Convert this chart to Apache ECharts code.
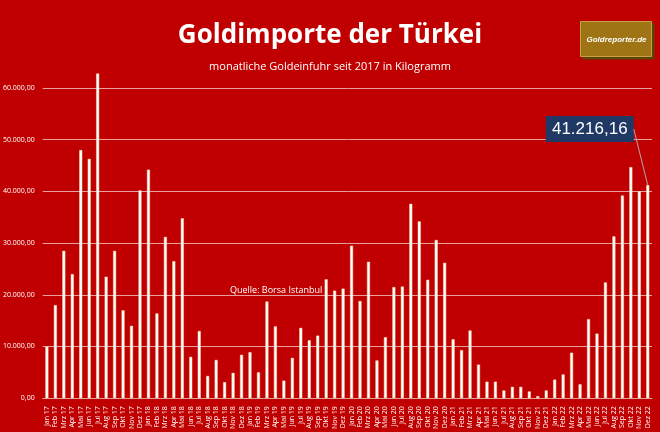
<!DOCTYPE html>
<html>
<head>
<meta charset="UTF-8">
<title>Goldimporte der Türkei</title>
<script src="https://cdn.jsdelivr.net/npm/echarts@6/dist/echarts.min.js"></script>
<style>
html, body { margin: 0; padding: 0; background: #c00000; }
#chart { width: 660px; height: 432px; }
</style>
</head>
<body>
<div id="chart"></div>
<script>
var months = ['Jan', 'Feb', 'Mrz', 'Apr', 'Mai', 'Jun', 'Jul', 'Aug', 'Sep', 'Okt', 'Nov', 'Dez'];
var years = ['17', '18', '19', '20', '21', '22'];
var categories = [];
years.forEach(function (y) {
	months.forEach(function (m) { categories.push(m + ' ' + y); });
});

// Goldeinfuhr in Kilogramm
var v2017 = [10000, 18000, 28500, 24000, 48000, 46300, 62800, 23500, 28500, 17000, 14000, 40200];
var v2018 = [44200, 16400, 31200, 26500, 34800, 8000, 13000, 4300, 7400, 3100, 4900, 8400];
var v2019 = [8900, 5000, 18700, 13900, 3400, 7800, 13600, 11200, 12100, 23000, 20800, 21200];
var v2020 = [29500, 18800, 26400, 7300, 11800, 21500, 21600, 37600, 34200, 22900, 30600, 26200];
var v2021 = [11400, 9300, 13100, 6500, 3200, 3200, 1500, 2200, 2200, 1300, 400, 1500];
var v2022 = [3600, 4600, 8800, 2700, 15300, 12500, 22400, 31300, 39200, 44700, 40000, 41216.16];
var values = [].concat(v2017, v2018, v2019, v2020, v2021, v2022);

function fmt(v) {
	var parts = v.toFixed(2).split('.');
	return parts[0].replace(/\B(?=(\d{3})+(?!\d))/g, '.') + ',' + parts[1];
}

var chart = echarts.init(document.getElementById('chart'));
chart.setOption({
	backgroundColor: '#c00000',
	animation: false,
	title: [{
		text: 'Goldimporte der Türkei',
		left: 'center', top: 18,
		textStyle: { color: '#fff', fontSize: 26, fontWeight: 'bold', fontFamily: 'Open Sans' }
	}, {
		text: 'monatliche Goldeinfuhr seit 2017 in Kilogramm',
		left: 'center', top: 56,
		textStyle: { color: '#fff', fontSize: 11, fontWeight: 'normal', fontFamily: 'Open Sans' }
	}],
	graphic: [{
		type: 'group', left: 580, top: 21,
		children: [
			{ type: 'rect', shape: { x: 2, y: 2, width: 72, height: 36 }, style: { fill: '#5a4405' } },
			{ type: 'rect', shape: { x: 0, y: 0, width: 71, height: 35 }, style: { fill: '#9e7414', stroke: '#c9a040', lineWidth: 1 } },
			{ type: 'text', style: { x: 36, y: 18, text: 'Goldreporter.de', fill: '#fff', font: 'italic bold 8px sans-serif', textAlign: 'center', textVerticalAlign: 'middle' } }
		]
	}, {
		type: 'text', left: 230, top: 286,
		style: { text: 'Quelle: Borsa Istanbul', fill: '#fff', font: '9px "Open Sans"' }
	}],
	grid: { left: 40, right: 8, top: 88, bottom: 31 },
	xAxis: {
		type: 'category',
		data: categories,
		axisTick: { show: false },
		axisLine: { lineStyle: { color: '#e6a0a0' } },
		axisLabel: { color: '#fff', rotate: 90, fontSize: 7, interval: 0, fontFamily: 'Open Sans' }
	},
	yAxis: {
		type: 'value', min: 0, max: 60000, interval: 10000,
		axisLabel: { color: '#fff', fontSize: 7, formatter: fmt, fontFamily: 'Open Sans' },
		splitLine: { lineStyle: { color: '#e6a0a0' } }
	},
	series: [{
		type: 'bar',
		data: values,
		clip: false,
		barWidth: 3,
		itemStyle: { color: '#fff', borderColor: '#f5deb3', borderWidth: 0.5 },
		markPoint: {
			symbol: 'rect', symbolSize: [88, 26],
			symbolOffset: [-58, -56],
			itemStyle: { color: '#1f3864' },
			label: { color: '#fff', fontSize: 17, formatter: function () { return fmt(v2022[11]); } },
			data: [{ coord: [categories.length - 1, v2022[11]] }]
		}
	}]
});

// leader line from the label box to the last bar
var tip = chart.convertToPixel({ xAxisIndex: 0, yAxisIndex: 0 }, [categories.length - 1, v2022[11]]);
var g = chart.getOption().graphic[0].elements;
g.push({
	type: 'line', silent: true, z: 10,
	shape: { x1: tip[0] - 14, y1: tip[1] - 56, x2: tip[0], y2: tip[1] },
	style: { stroke: '#aaa', lineWidth: 1 }
});
chart.setOption({ graphic: g }, { replaceMerge: ['graphic'] });
</script>
</body>
</html>
